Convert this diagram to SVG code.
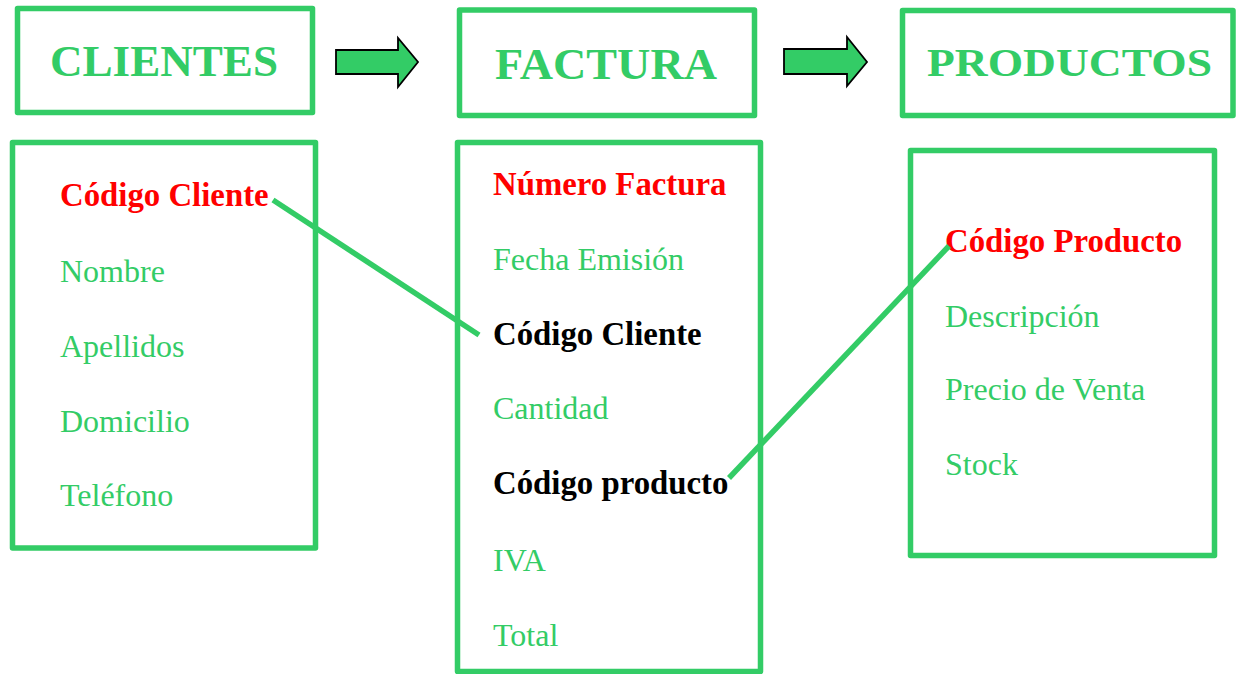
<svg xmlns="http://www.w3.org/2000/svg" width="1236" height="674" viewBox="0 0 1236 674">
<style>
.box{fill:#fff;stroke:#33CC66;stroke-width:5.5;stroke-linejoin:round}
.hdr{font-family:"Liberation Serif","Times New Roman",serif;font-weight:bold;font-size:45px;fill:#33CC66}
.f{font-family:"Liberation Serif","Times New Roman",serif;font-size:32px}
.g{fill:#33CC66}
.r{fill:#FF0000;font-weight:bold;font-size:32.8px}
.k{fill:#000;font-weight:bold;font-size:32.8px}
.arrow{fill:#33CC66;stroke:#000;stroke-width:1.8;stroke-linejoin:miter}
.conn{stroke:#33CC66;stroke-width:5.5;fill:none}
</style>
<rect width="1236" height="674" fill="#fff"/>
<g id="clientes-header">
<rect class="box" x="17.5" y="8.5" width="295" height="104"/>
<text class="hdr" x="50" y="76" textLength="228" lengthAdjust="spacingAndGlyphs">CLIENTES</text>
</g>
<g id="factura-header">
<rect class="box" x="459.5" y="10" width="295" height="105.5"/>
<text class="hdr" x="495" y="79" textLength="222" lengthAdjust="spacingAndGlyphs">FACTURA</text>
</g>
<g id="productos-header">
<rect class="box" x="902.5" y="10.5" width="330.5" height="105"/>
<text class="hdr" transform="translate(927,76) scale(1,0.88)" x="0" y="0" textLength="285" lengthAdjust="spacingAndGlyphs">PRODUCTOS</text>
</g>
<g id="arrow-1">
<polygon class="arrow" points="336,50 398,50 398,38 418,62 398,87 398,74 336,74"/>
</g>
<g id="arrow-2">
<polygon class="arrow" points="784,49 847,49 847,37 867,62 847,86 847,74 784,74"/>
</g>
<g id="clientes">
<rect class="box" x="12.5" y="142.5" width="303" height="405.5"/>
<text class="f r" x="60" y="206">Código Cliente</text>
<text class="f g" x="60" y="282">Nombre</text>
<text class="f g" x="60" y="357">Apellidos</text>
<text class="f g" x="60" y="432">Domicilio</text>
<text class="f g" x="60" y="506">Teléfono</text>
</g>
<g id="factura">
<rect class="box" x="457.5" y="142.5" width="303" height="529"/>
<text class="f r" x="493" y="195">Número Factura</text>
<text class="f g" x="493" y="270">Fecha Emisión</text>
<text class="f k" x="493" y="345">Código Cliente</text>
<text class="f g" x="493" y="419">Cantidad</text>
<text class="f k" x="493" y="494">Código producto</text>
<text class="f g" x="493" y="571">IVA</text>
<text class="f g" x="493" y="646">Total</text>
</g>
<g id="productos">
<rect class="box" x="910.5" y="150.5" width="304" height="405"/>
<text class="f r" x="945" y="252">Código Producto</text>
<text class="f g" x="945" y="327">Descripción</text>
<text class="f g" x="945" y="400">Precio de Venta</text>
<text class="f g" x="945" y="475">Stock</text>
</g>
<g id="connectors">
<line class="conn" x1="273" y1="200" x2="479" y2="335"/>
<line class="conn" x1="729" y1="478" x2="949" y2="246"/>
</g>
</svg>
